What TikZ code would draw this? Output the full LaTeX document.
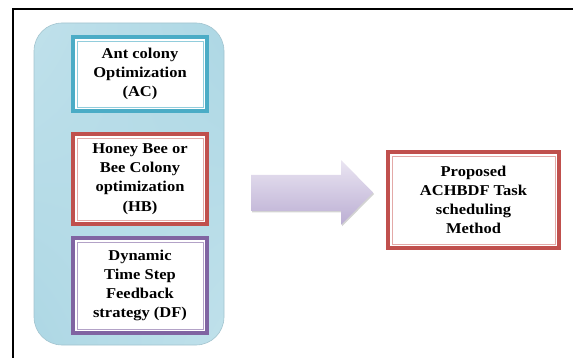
\documentclass[tikz,border=0pt]{standalone}
\usepackage{fontspec}
\setmainfont{Liberation Serif}[FakeStretch=1.1]
\usetikzlibrary{shadows}
\definecolor{acblue}{HTML}{4BACC6}
\definecolor{acbluelt}{HTML}{92CDDC}
\definecolor{hbred}{HTML}{C0504D}
\definecolor{hbredlt}{HTML}{E3A9A7}
\definecolor{dfviolet}{HTML}{8064A2}
\definecolor{dfvioletlt}{HTML}{B3A2C7}
\definecolor{panelrim}{HTML}{A3C4CF}
\definecolor{arrowlt}{HTML}{EAE5F2}
\definecolor{arrowdk}{HTML}{BBAED3}
% light at top left and bottom right, darker at the other two corners
\pgfdeclarefunctionalshading{panelshade}{\pgfpoint{-50bp}{-50bp}}{\pgfpoint{50bp}{50bp}}{}{
    100 div 0.5 add exch 100 div 0.5 add exch
    2 copy mul 3 1 roll
    1 exch sub exch 1 exch sub mul add
    dup dup -0.279 mul 0.855 add 3 1 roll
    -0.141 mul 0.933 add exch -0.098 mul 0.957 add
}
\tikzset{%
    schemebox/.style 2 args={draw=#1, line width=4pt, fill=white, align=center, inner sep=0pt,
        font=\bfseries\fontsize{15}{19.2}\selectfont,
        path picture={\draw[#2, line width=0.8pt]
            ([shift={(4pt,-4pt)}]path picture bounding box.north west) rectangle
            ([shift={(-4pt,4pt)}]path picture bounding box.south east);}},
    panel/.style={rounded corners=28pt, draw=panelrim, line width=0.6pt, shading=panelshade}
}

\begin{document}
\begin{tikzpicture}[x=1pt, y=-1pt]
      \useasboundingbox (0,0) rectangle (573,358);

      % page frame
      \draw[line width=1.4pt] (13,358) -- (13,9) -- (573,9);

      \node[panel, minimum width=190pt, minimum height=322pt] (panel) at (129,184) {};

      \node[schemebox={acblue}{acbluelt}, minimum width=134pt, minimum height=74pt] (ac) at (140,74)
          {Ant colony\\Optimization\\(AC)};
      \node[schemebox={hbred}{hbredlt}, minimum width=134pt, minimum height=90pt] (hb) at (140,179)
          {Honey Bee or\\Bee Colony\\optimization\\(HB)};
      \node[schemebox={dfviolet}{dfvioletlt}, minimum width=134pt, minimum height=95pt] (df) at (140,285.5)
          {Dynamic\\Time Step\\Feedback\\strategy (DF)};

      % block arrow
      \shade[top color=arrowlt, bottom color=arrowdk,
          drop shadow={shadow xshift=1pt, shadow yshift=-1.5pt, opacity=0.35}]
          (251,175) -- (341,175) -- (341,160) -- (373,192.5) -- (341,225) -- (341,211) -- (251,211) -- cycle;

      \node[schemebox={hbred}{hbredlt}, minimum width=171pt, minimum height=96pt] (prop) at (473.5,200)
          {Proposed\\ACHBDF Task\\scheduling\\Method};
\end{tikzpicture}
\end{document}
